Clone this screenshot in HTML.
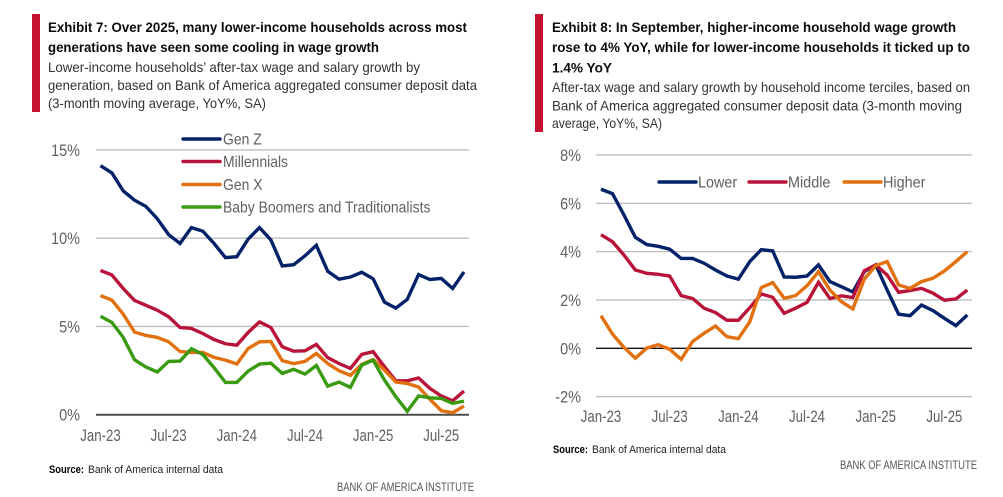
<!DOCTYPE html>
<html lang="en">
<head>
<meta charset="utf-8">
<title>Wage growth exhibits</title>
<style>
html,body{margin:0;padding:0;background:#fff;}
svg{display:block;font-family:"Liberation Sans",sans-serif;}
.t{font-size:14px;font-weight:700;fill:#0c0c0c;}
.s{font-size:14px;fill:#333;}
.src{font-size:11px;fill:#222;}
.srcb{font-size:11px;font-weight:700;fill:#000;}
.brand{font-size:11.5px;fill:#555;}
</style>
</head>
<body>
<svg id="root" width="1003" height="497" viewBox="0 0 1003 497" xmlns="http://www.w3.org/2000/svg">
<rect width="1003" height="497" fill="#fff"/>
<g>
<rect x="32" y="14" width="8" height="98" fill="#c41230"/>
<text class="t" x="48" y="32" textLength="419" lengthAdjust="spacingAndGlyphs">Exhibit 7: Over 2025, many lower-income households across most</text>
<text class="t" x="48" y="52" textLength="331" lengthAdjust="spacingAndGlyphs">generations have seen some cooling in wage growth</text>
<text class="s" x="48" y="72" textLength="372" lengthAdjust="spacingAndGlyphs">Lower-income households’ after-tax wage and salary growth by</text>
<text class="s" x="48" y="90" textLength="429" lengthAdjust="spacingAndGlyphs">generation, based on Bank of America aggregated consumer deposit data</text>
<text class="s" x="48" y="108" textLength="218" lengthAdjust="spacingAndGlyphs">(3-month moving average, YoY%, SA)</text>
</g>
<g>
<rect x="535" y="14" width="8" height="118" fill="#c41230"/>
<text class="t" x="552" y="32" textLength="404" lengthAdjust="spacingAndGlyphs">Exhibit 8: In September, higher-income household wage growth</text>
<text class="t" x="552" y="52" textLength="418" lengthAdjust="spacingAndGlyphs">rose to 4% YoY, while for lower-income households it ticked up to</text>
<text class="t" x="552" y="72.5" textLength="60" lengthAdjust="spacingAndGlyphs">1.4% YoY</text>
<text class="s" x="552" y="92" textLength="418" lengthAdjust="spacingAndGlyphs">After-tax wage and salary growth by household income terciles, based on</text>
<text class="s" x="552" y="110.500" textLength="410" lengthAdjust="spacingAndGlyphs">Bank of America aggregated consumer deposit data (3-month moving</text>
<text class="s" x="552" y="128" textLength="110" lengthAdjust="spacingAndGlyphs">average, YoY%, SA)</text>
</g>
<g id="chart7"></g>
<g id="chart8"></g>
<g>
<text class="srcb" x="49" y="473" textLength="35" lengthAdjust="spacingAndGlyphs">Source:</text>
<text class="src" x="88" y="473" textLength="135" lengthAdjust="spacingAndGlyphs">Bank of America internal data</text>
<text class="brand" x="337" y="491" textLength="137" lengthAdjust="spacingAndGlyphs">BANK OF AMERICA INSTITUTE</text>
</g>
<g>
<text class="srcb" x="553" y="453" textLength="35" lengthAdjust="spacingAndGlyphs">Source:</text>
<text class="src" x="592" y="453" textLength="134" lengthAdjust="spacingAndGlyphs">Bank of America internal data</text>
<text class="brand" x="840" y="469" textLength="137" lengthAdjust="spacingAndGlyphs">BANK OF AMERICA INSTITUTE</text>
</g>
</svg>
<script>
var xTickLabels = ['Jan-23','Jul-23','Jan-24','Jul-24','Jan-25','Jul-25'];
var xTickMonths = [0,6,12,18,24,30];
var monthCount = 33;

var yTicks7 = [0,5,10,15];
var genZ = [14.11,13.7,12.68,12.15,11.8,11.1,10.2,9.7,10.6,10.4,9.7,8.9,8.95,9.95,10.6,9.9,8.43,8.5,9.0,9.6,8.13,7.68,7.8,8.07,7.7,6.38,6.04,6.53,7.94,7.66,7.72,7.15,8.09];
var millennials = [8.17,7.92,7.15,6.47,6.2,5.92,5.55,4.94,4.89,4.6,4.26,4.02,3.94,4.66,5.26,4.94,3.85,3.6,3.62,3.98,3.23,2.9,2.62,3.42,3.57,2.72,1.92,1.92,2.08,1.49,1.06,0.79,1.34];
var genX = [6.75,6.49,5.7,4.68,4.49,4.38,4.13,3.58,3.53,3.53,3.25,3.09,2.87,3.75,4.13,4.15,3.06,2.89,3.02,3.47,2.9,2.49,2.23,2.85,3.13,2.53,1.85,1.77,1.57,0.87,0.23,0.11,0.49];
var boomers = [5.58,5.23,4.38,3.11,2.7,2.42,3.02,3.04,3.74,3.42,2.66,1.83,1.83,2.47,2.87,2.92,2.34,2.57,2.3,2.79,1.62,1.85,1.55,2.81,3.09,1.96,1.02,0.19,1.06,0.96,0.92,0.64,0.77];

var yTicks8 = [-2,0,2,4,6,8];
var lower = [6.58,6.4,5.52,4.59,4.29,4.22,4.1,3.72,3.72,3.52,3.24,2.99,2.86,3.59,4.08,4.03,2.95,2.94,2.99,3.45,2.76,2.55,2.33,3.17,3.45,2.41,1.41,1.35,1.79,1.56,1.24,0.94,1.38];
var middle = [4.7,4.41,3.86,3.24,3.1,3.06,2.99,2.18,2.06,1.66,1.48,1.16,1.16,1.68,2.25,2.11,1.45,1.66,1.9,2.73,2.06,2.17,2.1,3.21,3.45,3.03,2.32,2.39,2.48,2.28,1.99,2.04,2.41];
var higher = [1.35,0.59,0.04,-0.41,0.01,0.15,-0.04,-0.46,0.28,0.62,0.92,0.48,0.4,1.1,2.51,2.72,2.07,2.18,2.59,3.17,2.41,1.93,1.63,2.86,3.42,3.59,2.62,2.48,2.76,2.9,3.2,3.59,4.0];

var NS = 'http://www.w3.org/2000/svg';
var NAVY = '#012169', RED = '#b9133a', ORANGE = '#e3700f', GREEN = '#3a9a12', GREY = '#5f6062';

function node(parent, tag, attrs, text) {
  var el = document.createElementNS(NS, tag);
  for (var k in attrs) el.setAttribute(k, attrs[k]);
  if (text !== undefined) el.textContent = text;
  parent.appendChild(el);
  return el;
}
function squeeze(el, k) {
  el.setAttribute('textLength', (el.getComputedTextLength() * k).toFixed(1));
  el.setAttribute('lengthAdjust', 'spacingAndGlyphs');
}
function slug(s) {
  return String(s).toLowerCase().replace(/%/g, 'pct').replace(/[^a-z0-9]+/g, '-');
}
function drawChart(cfg) {
  var g = document.getElementById(cfg.id);
  var xScale = function (i) { return cfg.x0 + (cfg.x1 - cfg.x0) * i / (monthCount - 1); };
  var yScale = function (v) { return cfg.yZero - v * cfg.pxPerUnit; };

  cfg.yTicks.forEach(function (t) {
    var isZero = t === 0;
    var line = node(g, 'line', {
      x1: cfg.gridLeft, x2: cfg.gridRight, y1: yScale(t), y2: yScale(t),
      stroke: isZero ? cfg.zeroColor : '#bdbdbd',
      'stroke-width': isZero ? cfg.zeroWidth : 1.3
    });
    
    
    var lab = node(g, 'text', {
      x: cfg.gridLeft - cfg.yLabelGap, y: yScale(t) + 6,
      'text-anchor': 'end', 'font-size': 17, fill: GREY
    }, t + '%');
    
    
    squeeze(lab, 0.85);
  });

  xTickLabels.forEach(function (t, idx) {
    var lab = node(g, 'text', {
      x: xScale(xTickMonths[idx]), y: cfg.xLabelY,
      'text-anchor': 'middle', 'font-size': 16.5, fill: GREY
    }, t);
    
    
    squeeze(lab, 0.8);
  });

  cfg.series.forEach(function (s) {
    var pts = s.values.map(function (v, i) {
      return xScale(i).toFixed(2) + ',' + yScale(v).toFixed(2);
    }).join(' ');
    var line = node(g, 'polyline', {
      points: pts, fill: 'none', stroke: s.color, 'stroke-width': 3.4,
      'stroke-linejoin': 'miter', 'stroke-linecap': 'butt'
    });
    
    
  });

  cfg.series.forEach(function (s) {
    var key = node(g, 'line', {
      x1: s.lx, x2: s.lx + 37, y1: s.ly, y2: s.ly,
      stroke: s.color, 'stroke-width': 3.4, 'stroke-linecap': 'round'
    });
    
    
    var lab = node(g, 'text', {
      x: s.tx, y: s.ly + 5.5, 'font-size': 16, fill: GREY
    }, s.name);
    
    
    squeeze(lab, cfg.legendSqueeze);
  });
}

drawChart({
  id: 'chart7', x0: 100.5, x1: 464, yZero: 414.7, pxPerUnit: 17.65,
  gridLeft: 96, gridRight: 469, yLabelGap: 16, xLabelY: 441,
  zeroColor: '#4d4d4d', zeroWidth: 2, yTicks: yTicks7, legendSqueeze: 0.87,
  series: [
    {name: 'Gen Z', values: genZ, color: NAVY, lx: 183, ly: 139, tx: 223},
    {name: 'Millennials', values: millennials, color: RED, lx: 183, ly: 161.5, tx: 223},
    {name: 'Gen X', values: genX, color: ORANGE, lx: 183, ly: 184.5, tx: 223},
    {name: 'Baby Boomers and Traditionalists', values: boomers, color: GREEN, lx: 183, ly: 207, tx: 223}
  ]
});
drawChart({
  id: 'chart8', x0: 601, x1: 967.3, yZero: 348.3, pxPerUnit: 24.17,
  gridLeft: 596, gridRight: 972, yLabelGap: 15, xLabelY: 422,
  zeroColor: '#111', zeroWidth: 1.4, yTicks: yTicks8, legendSqueeze: 0.9,
  series: [
    {name: 'Lower', values: lower, color: NAVY, lx: 659, ly: 182, tx: 698},
    {name: 'Middle', values: middle, color: RED, lx: 749, ly: 182, tx: 788},
    {name: 'Higher', values: higher, color: ORANGE, lx: 844, ly: 182, tx: 883}
  ]
});
</script>
</body>
</html>
